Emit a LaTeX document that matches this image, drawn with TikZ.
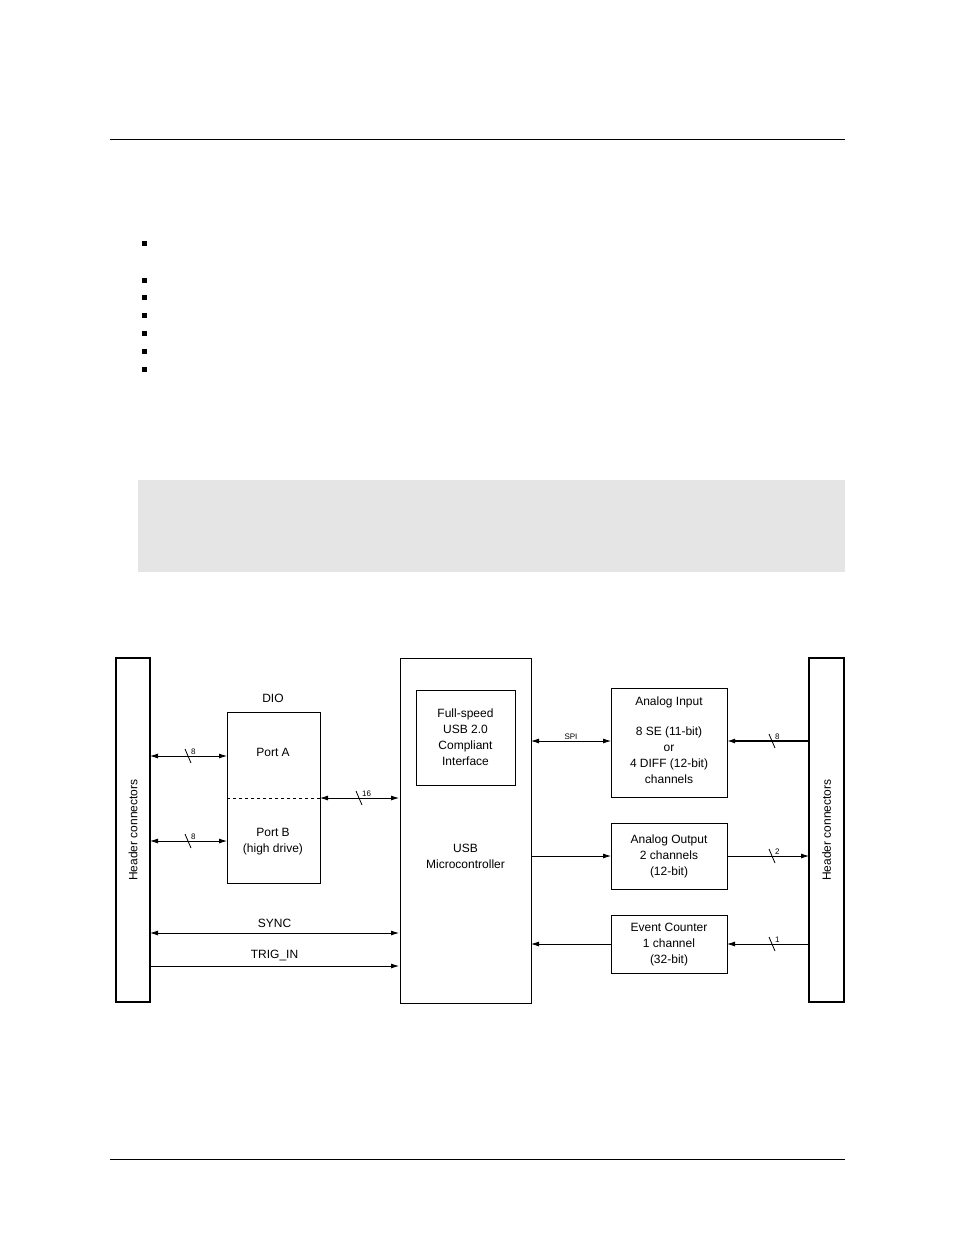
\documentclass[tikz,border=0pt]{standalone}
\usepackage{fontspec}
\setmainfont{Liberation Sans}
\usetikzlibrary{calc,arrows.meta}
\tikzset{
  blk/.style={draw,thick,inner sep=0pt,anchor=north west},
  lbl/.style={font=\fontsize{12}{16}\selectfont,align=center,inner sep=0pt},
  tiny/.style={font=\fontsize{8}{9}\selectfont,inner sep=1pt},
  bus/.style={thick,-{Latex[length=8pt,width=5pt]}},
  bbus/.style={thick,{Latex[length=8pt,width=5pt]}-{Latex[length=8pt,width=5pt]}}
}
\newcommand{\slashmark}[2]{%
  \draw[thick] ($(#1)+(-3,-7)$) -- ($(#1)+(3,7)$);
  \node[tiny,anchor=south west] at ($(#1)+(2,0)$) {#2};}
\begin{document}
\begin{tikzpicture}[x=1pt,y=-1pt]
\useasboundingbox (0,0) rectangle (954,1235);
% page rules, bullets and note box
\draw (110,139) -- (845,139);
\draw (110,1159) -- (845,1159);
\foreach \y in {243,280,297,315,333,351,369}
  \fill (141.5,\y-2.5) rectangle (146.5,\y+2.5);
\fill[black!10] (138,480) rectangle (845,572);

% header connectors
\draw[very thick] (116,658) rectangle (150,1002);
\coordinate (hl) at (150,0);
\node[lbl,rotate=90] (hdrL) at (133,830) {Header connectors};
\draw[very thick] (809,658) rectangle (844,1002);
\coordinate (hr) at (809,0);
\node[lbl,rotate=90] (hdrR) at (826.5,830) {Header connectors};

% DIO
\node[lbl] (dio) at (273,698) {DIO};
\draw[thick] (227,712) rectangle (320,883);
\draw[thick,dashed] (227,798) -- (320,798);
\node[lbl] (porta) at (273,752) {Port A};
\node[lbl] (portb) at (273,842) {Port B\\(high drive)};

% USB microcontroller
\draw[thick] (400,658) rectangle (531,1003);
\draw[thick] (416,690) rectangle (515,785);
\node[lbl] (usbif) at (465.5,737) {Full-speed\\USB 2.0\\Compliant\\Interface};
\node[lbl] (mcu) at (465.5,856) {USB\\Microcontroller};

% right side blocks
\draw[thick] (611,688) rectangle (727,797);
\node[lbl] (ain) at (669,702) {Analog Input};
\node[lbl] (ainb) at (669,755) {8 SE (11-bit)\\or\\4 DIFF (12-bit)\\channels};
\draw[thick] (611,823) rectangle (727,889);
\node[lbl] (aout) at (669,856) {Analog Output\\2 channels\\(12-bit)};
\draw[thick] (611,915) rectangle (727,973);
\node[lbl] (ctr) at (669,945) {Event Counter\\1 channel\\(32-bit)};

% connectors left
\coordinate (pa1) at (150,756); \coordinate (pa2) at (227,756);
\draw[bbus] (pa1) -- (pa2); \slashmark{188,756}{8}
\coordinate (pb1) at (150,841); \coordinate (pb2) at (227,841);
\draw[bbus] (pb1) -- (pb2); \slashmark{188,841}{8}
\coordinate (d1) at (320,798); \coordinate (d2) at (399,798);
\draw[bbus] (d1) -- (d2); \slashmark{359,798}{16}
\coordinate (s1) at (150,933); \coordinate (s2) at (399,933);
\draw[bbus] (s1) -- node[lbl,above=5pt] (sync) {SYNC} (s2);
\coordinate (t1) at (150,966); \coordinate (t2) at (399,966);
\draw[bus] (t1) -- node[lbl,above=5pt] (trig) {TRIG\_IN} (t2);

% connectors right
\coordinate (spi1) at (531,741); \coordinate (spi2) at (611,741);
\draw[bbus] (spi1) -- node[tiny,above] (spi) {SPI} (spi2);
\coordinate (ai1) at (809,741); \coordinate (ai2) at (727,741);
\draw[bus,line width=1.4pt] (ai1) -- (ai2); \slashmark{772,741}{8}
\coordinate (ao1) at (531,856); \coordinate (ao2) at (611,856);
\draw[bus] (ao1) -- (ao2);
\coordinate (ao3) at (727,856); \coordinate (ao4) at (809,856);
\draw[bus] (ao3) -- (ao4); \slashmark{772,856}{2}
\coordinate (ec1) at (611,944); \coordinate (ec2) at (531,944);
\draw[bus] (ec1) -- (ec2);
\coordinate (ec3) at (809,944); \coordinate (ec4) at (727,944);
\draw[bus] (ec3) -- (ec4); \slashmark{772,944}{1}
\end{tikzpicture}
\end{document}
